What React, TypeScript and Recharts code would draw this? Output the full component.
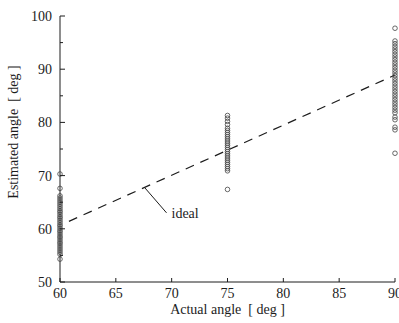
import React from 'react'
import {
  ScatterChart,
  Scatter,
  XAxis,
  YAxis,
  ReferenceLine,
  ReferenceDot,
  Label,
} from 'recharts'

// estimated angle readings at each actual angle
const at60 = [
  54.3, 55.2, 55.6, 56.0, 56.4, 56.8, 57.2, 57.5, 57.9, 58.3, 58.6, 59.0, 59.4, 59.7, 60.1, 60.5,
  60.8, 61.2, 61.6, 62.0, 62.3, 62.7, 63.1, 63.4, 63.8, 64.2, 64.6, 65.0, 65.4, 65.8, 66.2, 67.6, 70.3,
]
const at75 = [
  67.4, 70.9, 71.3, 71.7, 72.1, 72.5, 72.9, 73.3, 73.7, 74.1, 74.5, 74.9, 75.3, 75.7, 76.1, 76.5,
  76.9, 77.3, 77.7, 78.1, 78.5, 78.9, 79.6, 80.2, 80.8, 81.3,
]
const at90 = [
  74.2, 78.6, 79.1, 80.5, 81.0, 81.8, 82.3, 82.8, 83.3, 83.8, 84.3, 84.8, 85.3, 85.8, 86.3, 86.8,
  87.3, 87.8, 88.3, 88.8, 89.3, 89.8, 90.3, 90.8, 91.3, 91.8, 92.3, 92.8, 93.3, 93.8, 94.3, 94.8,
  95.3, 97.7,
]

const xTicks = [60, 65, 70, 75, 80, 85, 90]
const yTicks = [50, 55, 60, 65, 70, 75, 80, 85, 90, 95, 100]

const idealLine = [
  { x: 60.8, y: 61.4 },
  { x: 90, y: 88.9 },
]
const leader = [
  { x: 67.57, y: 67.77 },
  { x: 69.54, y: 63.0 },
]

const points = [
  ...at60.map((y) => ({ x: 60, y })),
  ...at75.map((y) => ({ x: 75, y })),
  ...at90.map((y) => ({ x: 90, y })),
]

const INK = '#1c1c1c'
const FONT = '"Liberation Serif", "DejaVu Serif", serif'

function LeftTick(props: any) {
  const { x, y, payload } = props
  const major = payload.value % 10 === 0
  return (
    <g>
      <line x1={x + 8} x2={x + 8 + (major ? 5 : 3)} y1={y} y2={y} stroke={INK} />
      {major && (
        <text x={x} y={y} dy={5} textAnchor="end" fontSize={14} fontFamily={FONT} fill={INK}>
          {payload.value}
        </text>
      )}
    </g>
  )
}

function RightTick(props: any) {
  const { x, y, payload } = props
  const major = payload.value % 10 === 0
  return <line x1={x} x2={x - (major ? 5 : 3)} y1={y} y2={y} stroke={INK} />
}

function BottomTick(props: any) {
  const { x, y, payload } = props
  return (
    <g>
      <line x1={x} x2={x} y1={y} y2={y - 4} stroke={INK} />
      <text x={x} y={y} dy={16} textAnchor="middle" fontSize={14} fontFamily={FONT} fill={INK}>
        {payload.value}
      </text>
    </g>
  )
}

function TopTick(props: any) {
  const { x, y } = props
  return <line x1={x} x2={x} y1={y} y2={y + 4} stroke={INK} />
}

function Ring(props: any) {
  const { cx, cy } = props
  return <circle cx={cx} cy={cy} r={2.3} fill="none" stroke="#444" strokeWidth={0.8} />
}

export default function App() {
  return (
    <div style={{ position: 'absolute', left: 0, top: 0, background: '#fff' }}>
      <ScatterChart width={399} height={323} margin={{ top: 16, right: 4, left: 16, bottom: 0 }}>
        <XAxis
          type="number"
          dataKey="x"
          domain={[60, 90]}
          ticks={xTicks}
          interval={0}
          height={41}
          tickSize={0}
          tickMargin={0}
          tick={<BottomTick />}
          axisLine={{ stroke: INK }}
        >
          <Label
            value={'Actual angle\u00a0 [ deg ]'}
            position="insideBottom"
            offset={9}
            style={{ fontSize: 14, fontFamily: FONT, fill: INK }}
          />
        </XAxis>
        <XAxis
          xAxisId="top"
          orientation="top"
          type="number"
          dataKey="x"
          domain={[60, 90]}
          ticks={xTicks}
          interval={0}
          height={0}
          tickSize={0}
          tickMargin={0}
          tick={<TopTick />}
          axisLine={{ stroke: INK }}
        />
        <YAxis
          type="number"
          dataKey="y"
          domain={[50, 100]}
          ticks={yTicks}
          interval={0}
          width={44}
          tickSize={0}
          tickMargin={8}
          tick={<LeftTick />}
          axisLine={{ stroke: INK }}
        >
          <Label
            content={({ viewBox }: any) => {
              const cx = 13
              const cy = viewBox.y + viewBox.height / 2 - 17
              return (
                <text
                  x={cx}
                  y={cy}
                  transform={`rotate(-90 ${cx} ${cy})`}
                  textAnchor="middle"
                  dominantBaseline="central"
                  fontSize={14}
                  fontFamily={FONT}
                  fill={INK}
                  style={{ whiteSpace: 'pre' }}
                >
                  Estimated angle  [ deg ]
                </text>
              )
            }}
          />
        </YAxis>
        <YAxis
          yAxisId="right"
          orientation="right"
          type="number"
          dataKey="y"
          domain={[50, 100]}
          ticks={yTicks}
          interval={0}
          width={0}
          tickSize={0}
          tickMargin={0}
          tick={<RightTick />}
          axisLine={{ stroke: INK }}
        />
        <ReferenceLine
          segment={idealLine}
          stroke={INK}
          strokeWidth={1.2}
          strokeDasharray="9 7"
          ifOverflow="visible"
        />
        <ReferenceLine segment={leader} stroke={INK} strokeWidth={1} ifOverflow="visible" />
        <ReferenceDot
          x={leader[1].x}
          y={leader[1].y}
          r={0}
          stroke="none"
          ifOverflow="visible"
          label={{
            value: 'ideal',
            position: 'right',
            offset: 5,
            style: { fontSize: 14, fontFamily: FONT, fill: INK },
          }}
        />
        <Scatter data={points} shape={<Ring />} isAnimationActive={false} />
      </ScatterChart>
    </div>
  )
}
